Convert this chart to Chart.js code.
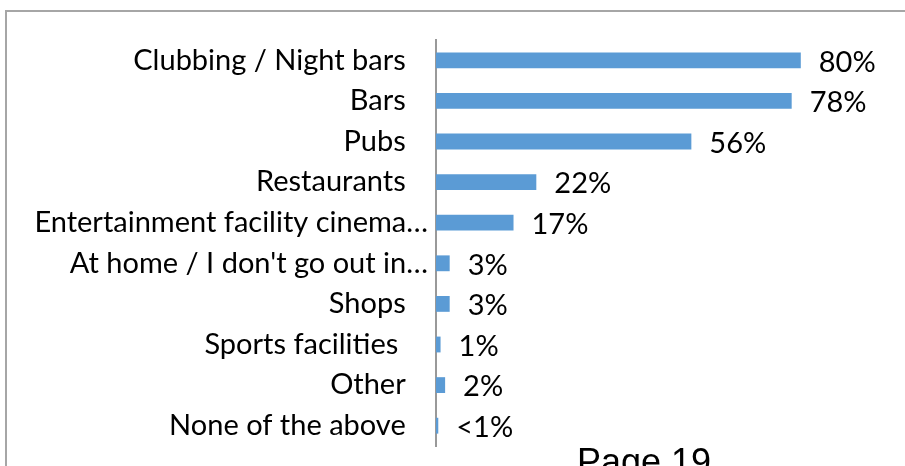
<!DOCTYPE html>
<html>
<head>
<meta charset="utf-8">
<script src="https://cdn.jsdelivr.net/npm/chart.js@4"></script>
<style>
  body { margin: 0; background: #fff; }
  #frame {
    position: absolute;
    left: 5px;
    top: 10px;
    width: 900px;
    height: 454px;
    border-top: 2px solid #a6a6a6;
    border-left: 2px solid #a6a6a6;
  }
  #chartBox { position: relative; width: 898px; height: 454px; }
</style>
</head>
<body>
<div id="frame">
  <div id="chartBox"><canvas id="placesChart"></canvas></div>
</div>
<script>
// data
const places = [
  "Clubbing / Night bars",
  "Bars",
  "Pubs",
  "Restaurants",
  "Entertainment facility cinema…",
  "At home / I don't go out in…",
  "Shops",
  "Sports facilities ",
  "Other",
  "None of the above",
];
const shares = [80, 78, 56, 22, 17, 3, 3, 1, 2, 0.5];
const shareLabels = ["80%", "78%", "56%", "22%", "17%", "3%", "3%", "1%", "2%", "<1%"];

const labelFont = "29px Lato";

// value labels next to the bars + the cut-off page number
const valueLabels = {
  id: "valueLabels",
  afterDatasetsDraw(chart) {
    const ctx = chart.ctx;
    const meta = chart.getDatasetMeta(0);
    ctx.save();
    ctx.font = labelFont;
    ctx.fillStyle = "#000";
    ctx.textAlign = "left";
    ctx.textBaseline = "middle";
    meta.data.forEach((bar, i) => {
      ctx.fillText(shareLabels[i], bar.x + 18, bar.y + 2);
    });
    ctx.font = "36px 'Liberation Sans'";
    ctx.fillText("Page 19", 570, 452);
    ctx.restore();
  },
};

const places_ctx = document.getElementById("placesChart").getContext("2d");

const places_chart = new Chart(places_ctx, {
  type: "bar",
  data: {
    labels: places,
    datasets: [
      {
        data: shares,
        backgroundColor: "#5b9bd5",
        borderWidth: 0,
        barPercentage: 0.39,
        categoryPercentage: 1,
      },
    ],
  },
  options: {
    indexAxis: "y",
    responsive: true,
    maintainAspectRatio: false,
    animation: false,
    layout: {
      padding: { left: 0, right: 13, top: 28, bottom: 20 },
    },
    plugins: {
      legend: { display: false },
      tooltip: { enabled: false },
    },
    scales: {
      x: {
        display: false,
        min: 0,
        max: 100,
      },
      y: {
        afterFit(scale) {
          scale.width = 429;
          scale.paddingTop = 0;
          scale.paddingBottom = 0;
        },
        grid: { display: false, drawTicks: false },
        border: { color: "#999", width: 2 },
        ticks: {
          padding: 8,
          color: "#000",
          font: { family: "Lato", size: 29 },
          callback: function (value) {
            const lab = this.getLabelForValue(value);
            return lab.endsWith("…") ? lab : lab + "   ";
          },
        },
      },
    },
  },
  plugins: [valueLabels],
});
</script>
</body>
</html>
